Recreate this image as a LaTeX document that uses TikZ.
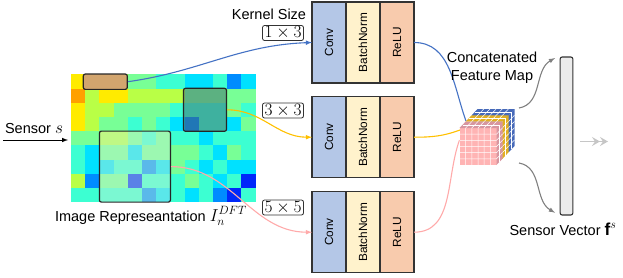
\documentclass[tikz,border=0pt]{standalone}
\usepackage{fontspec}
\setmainfont{Liberation Sans}
\usepackage{tikz}
\usepackage{xcolor}
\usetikzlibrary{positioning,arrows.meta}

\definecolor{convblue}{RGB}{180,199,231}
\definecolor{bncream}{RGB}{255,242,204}
\definecolor{relusalmon}{RGB}{248,203,173}
\definecolor{lineblue}{RGB}{68,114,196}
\definecolor{lineyellow}{RGB}{255,192,0}
\definecolor{linepink}{RGB}{255,170,170}
\definecolor{cubepink}{RGB}{255,180,180}
\definecolor{cubepinkdark}{RGB}{215,150,160}
\definecolor{cubeyellow}{RGB}{240,190,45}
\definecolor{cubeyellowdark}{RGB}{225,175,35}
\definecolor{cubeblue}{RGB}{80,120,200}
\definecolor{cubebluedark}{RGB}{70,105,185}
\definecolor{winorange}{RGB}{210,165,110}
\definecolor{winteal}{RGB}{65,100,110}
\definecolor{winwhite}{RGB}{200,240,210}
\definecolor{vecgray}{RGB}{236,236,236}
% heat map colours
\definecolor{hmb}{RGB}{0,40,250}
\definecolor{hms}{RGB}{0,140,255}
\definecolor{hmc}{RGB}{0,225,255}
\definecolor{hma}{RGB}{60,255,210}
\definecolor{hmg}{RGB}{120,255,150}
\definecolor{hml}{RGB}{185,255,70}
\definecolor{hmy}{RGB}{255,235,0}
\definecolor{hmo}{RGB}{255,160,0}

\newcommand{\bigmath}[1]{{\fontsize{17.28}{20}\selectfont$#1$}}

\tikzset{
  lbl/.style={font=\fontsize{14.5}{18}\selectfont, inner sep=1pt},
  win/.style={draw=black!85, line width=1.2pt, rounded corners=2pt, inner sep=0pt},
  kbox/.style={draw=black!80, line width=0.8pt, rounded corners=2pt, inner xsep=2pt, inner ysep=1.2pt, font=\fontsize{17.28}{20}\selectfont},
  blockpart/.style={draw=black!80, line width=1.1pt, minimum width=34pt, minimum height=81pt, inner sep=0pt, outer sep=0pt, font=\fontsize{11.8}{14}\selectfont},
  convbox/.style={blockpart, fill=convblue},
  bnbox/.style={blockpart, fill=bncream},
  relubox/.style={blockpart, fill=relusalmon},
  link/.style={line width=1.1pt}
}

\begin{document}
\begin{tikzpicture}[x=1pt, y=1pt, >=latex]
    \useasboundingbox (0,0) rectangle (623,277);

    % heat map
    \begin{scope}[shift={(71,202.7)}]
        \foreach \row [count=\r from 0] in {{y,l,l,l,g,g,a,a,c,c,a,s,c},{o,l,y,y,l,l,l,l,g,g,g,g,g},{y,l,l,g,g,g,g,a,a,a,a,g,a},{y,l,g,g,a,g,a,c,s,a,a,c,g},{g,g,l,l,g,a,g,a,a,c,a,a,a},{a,c,g,g,c,g,g,g,g,a,c,g,a},{a,c,c,a,a,s,c,g,a,c,a,c,c},{l,s,g,g,b,a,a,a,g,a,c,a,b},{a,a,a,a,a,s,c,a,c,a,s,b,a}} {
            \foreach \col [count=\c from 0] in \row {
                \fill[fill=hm\col] (\c*14.2, -\r*14.2) rectangle ++(14.4,-14.4);
            }
        }
    \end{scope}
    \node[win, fill=winorange, minimum width=44pt, minimum height=15.3pt] (win13) at (105.3,195.3) {};
    \node[win, fill=winteal, fill opacity=0.5, minimum width=43pt, minimum height=43pt] (win33) at (205,167.2) {};
    \node[win, fill=winwhite, fill opacity=0.45, minimum width=71pt, minimum height=71pt] (win55) at (134.9,110.4) {};

    \node[lbl] (sensor) at (34,148) {Sensor \bigmath{s}};
    \coordinate (sensorin) at (3,137);
    \coordinate (mapin) at (68,137);
    \draw[->, line width=1pt] (sensorin) -- (mapin);
    \node[lbl] (maplabel) at (151,61) {Image Represeantation \bigmath{I_n^{DFT}}};

    % kernel sizes
    \node[lbl] (kernel) at (269,263) {Kernel Size};
    \node[kbox] (k13) at (283,244) {$1\times 3$};
    \node[kbox] (k33) at (283,166.5) {$3\times 3$};
    \node[kbox] (k55) at (283,69.5) {$5\times 5$};

    % conv blocks
    \foreach \k/\y in {1/234.5, 2/139.8, 3/44.8} {
        \node[convbox] (conv\k) at (329,\y) {\rotatebox{90}{Conv}};
        \node[bnbox, right=0pt of conv\k] (bn\k) {\rotatebox{90}{BatchNorm}};
        \node[relubox, right=0pt of bn\k] (relu\k) {\rotatebox{90}{ReLU}};
    }

    \draw[->, link, lineblue] (win13.east) to[out=8, in=182] (conv1.west);
    \draw[->, link, lineyellow] (win33.east) to[out=0, in=180] (conv2.west);
    \draw[->, link, linepink] (win55.east) to[out=0, in=180] (conv3.west);

    % into the feature map
    \coordinate (inblue) at (466,156);
    \coordinate (inyellow) at (460,147);
    \coordinate (inpink) at (459.5,137);
    \draw[link, lineblue] (relu1.east) to[out=0, in=110] (inblue);
    \draw[link, lineyellow] (relu2.east) to[out=0, in=200] (inyellow);
    \draw[link, linepink] (relu3.east) to[out=0, in=250] (inpink);

    % concatenated feature map
    \foreach \k/\fc/\sc in {2/cubeblue/cubebluedark, 1/cubeyellow/cubeyellowdark, 0/cubepink/cubepinkdark} {
        \begin{scope}[shift={(459.5+6*\k, 112+6.3*\k)}]
            \fill[fill=\fc] (0,0) rectangle (37,37);
            \fill[fill=\sc] (0,37) -- (6,43.3) -- (43,43.3) -- (37,37) -- cycle;
            \fill[fill=\sc] (37,0) -- (43,6.3) -- (43,43.3) -- (37,37) -- cycle;
            \foreach \i in {1,...,5} {
                \draw[white, line width=0.5pt] (\i*37/6,0) -- ++(0,37) -- ++(6,6.3);
                \draw[white, line width=0.5pt] (0,\i*37/6) -- ++(37,0) -- ++(6,6.3);
            }
            \draw[white, line width=0.5pt] (3,40.15) -- (40,40.15) -- (40,3.15);
        \end{scope}
    }
    \node[lbl, align=center] (concat) at (492,209) {Concatenated\\Feature Map};

    % sensor vector
    \node[draw=black!80, line width=1.1pt, fill=vecgray, rounded corners=2pt, minimum width=12.7pt, minimum height=158pt, inner sep=0pt] (vec) at (566.5,141) {};
    \coordinate (outtop) at (519,169);
    \coordinate (outbot) at (519,114);
    \coordinate (vtop) at (555,219);
    \coordinate (vbot) at (555,64.3);
    \draw[->, link, gray] (outtop) to[out=10, in=210] (vtop);
    \draw[->, link, gray] (outbot) to[out=-10, in=150] (vbot);
    \node[lbl] (vecname) at (563,48) {Sensor Vector \bigmath{\mathbf{f}^s}};

    \coordinate (fadeA) at (580,135.5);
    \coordinate (fadeB) at (608,135.5);
    \draw[gray!45, line width=1.5pt, -{Stealth[length=8pt,width=9pt,inset=3pt]Stealth[length=8pt,width=9pt,inset=3pt]}] (fadeA) -- (fadeB);
\end{tikzpicture}
\end{document}
